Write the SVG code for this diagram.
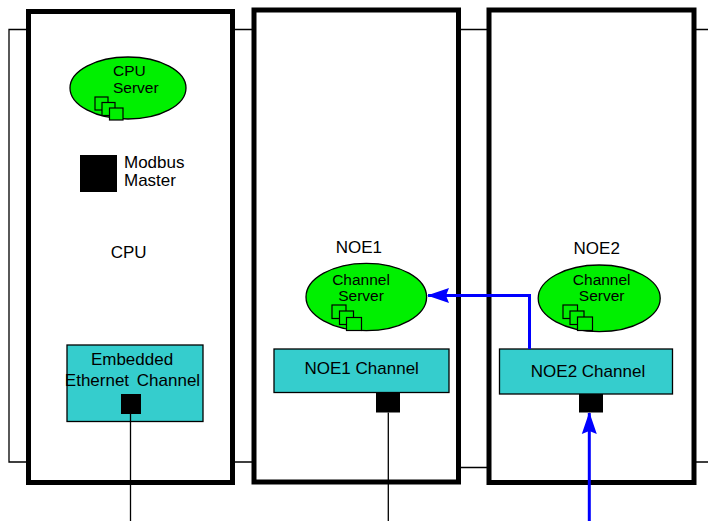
<svg xmlns="http://www.w3.org/2000/svg" width="708" height="521" viewBox="0 0 708 521">
<style>
text{font-family:"Liberation Sans",Arial,sans-serif;font-size:17px;fill:#000}
.sl{font-size:15.5px}
.mod{fill:#fff;stroke:#000;stroke-width:5}
.rack{fill:none;stroke:#000;stroke-width:1.3}
.srv{fill:#00f000;stroke:#000;stroke-width:1.3}
.ico{fill:#00f000;stroke:#000;stroke-width:1.2}
.chan{fill:#35cdcd;stroke:#000;stroke-width:1.3}
.port{fill:#000}
.wire{fill:none;stroke:#000;stroke-width:1.3}
.blue{fill:none;stroke:#0000ff;stroke-width:3}
.c{text-anchor:middle}
</style>
<defs>
<marker id="ah" markerUnits="userSpaceOnUse" viewBox="0 0 22 16" refX="21" refY="8" markerWidth="22" markerHeight="16" orient="auto">
<path d="M22,8 L0,0.5 L3,8 L0,15.5 Z" fill="#0000ff"/>
</marker>
</defs>
<g id="rack">
<path class="rack" d="M28,29.5 H9 V462 H28"/>
<path class="rack" d="M232,29.5 H254 M232,462 H254"/>
<path class="rack" d="M458,29.5 H489 M458,467.5 H489"/>
<path class="rack" d="M694,29.5 H708 M694,462 H708"/>
</g>
<g id="cpu-module">
<rect class="mod" x="28.5" y="11.5" width="204" height="471"/>
<text x="128.7" y="258" class="c">CPU</text>
</g>
<g id="noe1-module">
<rect class="mod" x="254" y="10" width="204.5" height="472"/>
<text x="358.8" y="252.5" class="c">NOE1</text>
</g>
<g id="noe2-module">
<rect class="mod" x="489" y="10" width="205" height="472.5"/>
<text x="596.7" y="254" class="c">NOE2</text>
</g>
<g id="cpu-server">
<ellipse class="srv" cx="128" cy="88" rx="58" ry="31"/>
<text x="113" y="76" class="sl">CPU<tspan x="113" dy="17.3">Server</tspan></text>
<rect class="ico" x="95" y="97" width="13" height="13"/>
<rect class="ico" x="102" y="102.5" width="13" height="13"/>
<rect class="ico" x="109.5" y="108" width="13.5" height="12"/>
</g>
<g id="modbus-master">
<rect class="port" x="80" y="155" width="37" height="37"/>
<text x="124" y="167.5">Modbus<tspan x="124" dy="18">Master</tspan></text>
</g>
<g id="embedded-ethernet-channel">
<rect class="chan" x="67" y="345" width="136" height="76.5"/>
<text x="132" y="365" class="c">Embedded<tspan x="132.5" dy="21" style="word-spacing:3px">Ethernet Channel</tspan></text>
<rect class="port" x="121" y="394" width="20" height="20"/>
</g>
<g id="noe1-channel-server">
<ellipse class="srv" cx="366.3" cy="297" rx="60.3" ry="33.7"/>
<text x="361" y="285" class="c sl">Channel<tspan x="361" dy="16">Server</tspan></text>
<rect class="ico" x="332" y="305" width="14" height="13.5"/>
<rect class="ico" x="339.5" y="311" width="14" height="13.5"/>
<rect class="ico" x="346.5" y="317.5" width="15" height="13"/>
</g>
<g id="noe1-channel">
<rect class="chan" x="274" y="349" width="175" height="43.5"/>
<text x="361.7" y="374" class="c">NOE1 Channel</text>
<rect class="port" x="376" y="393" width="24" height="19.5"/>
</g>
<g id="noe2-channel-server">
<ellipse class="srv" cx="599.2" cy="298.3" rx="61" ry="33.3"/>
<text x="601.7" y="285" class="c sl">Channel<tspan x="601.7" dy="16">Server</tspan></text>
<rect class="ico" x="563" y="305" width="14.5" height="13.5"/>
<rect class="ico" x="570" y="311" width="14" height="13.5"/>
<rect class="ico" x="577.5" y="317" width="15" height="13.5"/>
</g>
<g id="noe2-channel">
<rect class="chan" x="499.5" y="349" width="173" height="45"/>
<text x="588" y="376.5" class="c">NOE2 Channel</text>
<rect class="port" x="579" y="394" width="24" height="18.5"/>
</g>
<g id="connectors">
<path class="wire" d="M130.5,414 V521"/>
<path class="wire" d="M388.3,412.5 V521"/>
<path class="blue" d="M529.5,349 V295.5 H428" marker-end="url(#ah)"/>
<path class="blue" d="M589.3,521 V413" marker-end="url(#ah)"/>
</g>
</svg>
